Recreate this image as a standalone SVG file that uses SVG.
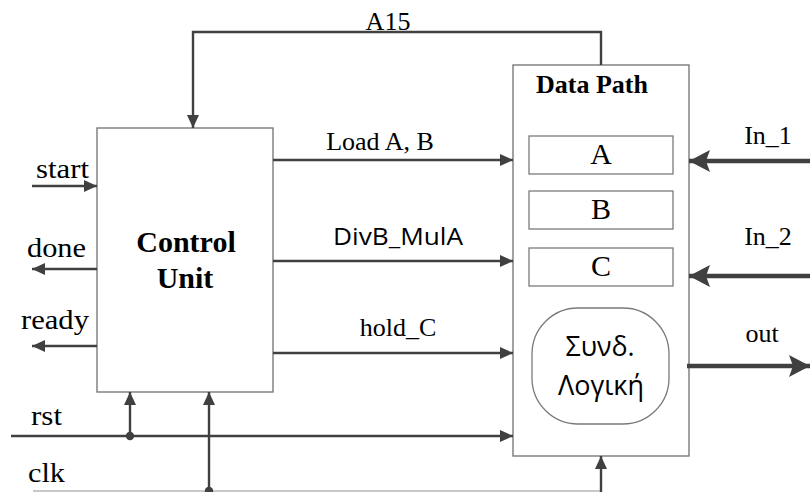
<svg xmlns="http://www.w3.org/2000/svg" width="810" height="492" viewBox="0 0 810 492">
  <style>
    .box { fill: #ffffff; stroke: #7a7a7a; stroke-width: 1.4; }
    .reg { fill: #ffffff; stroke: #7a7a7a; stroke-width: 1.3; }
    .wire { fill: none; stroke: #404040; stroke-width: 2.4; }
    .bus { fill: none; stroke: #404040; stroke-width: 4.5; }
    .serif { font-family: "Liberation Serif", "Times New Roman", serif; fill: #000000; }
    .sans { font-family: "Open Sans", "Noto Sans", sans-serif; fill: #000000; }
    .lbl { font-size: 26px; }
    .side { font-size: 28px; }
    .bold { font-weight: bold; }
  </style>
  <defs>
    <marker id="arrow" markerUnits="userSpaceOnUse" markerWidth="14" markerHeight="14" refX="13" refY="7" orient="auto">
      <path d="M0,1 L13,7 L0,13 Z" fill="#404040"/>
    </marker>
    <marker id="arrowBig" markerUnits="userSpaceOnUse" markerWidth="22" markerHeight="22" refX="21" refY="11" orient="auto">
      <path d="M0,0 L21,11 L0,22 L4,11 Z" fill="#404040"/>
    </marker>
    <circle id="dot" r="4.2" fill="#404040"/>
  </defs>

  <rect width="810" height="492" fill="#ffffff"/>

  <!-- Control unit -->
  <g id="control-unit">
    <rect class="box" x="97" y="128" width="176" height="264"/>
    <text class="serif bold" x="186" y="252" font-size="30" text-anchor="middle">Control</text>
    <text class="serif bold" x="185" y="288" font-size="30" text-anchor="middle">Unit</text>
  </g>

  <!-- Data path -->
  <g id="data-path">
    <rect class="box" x="513" y="65" width="176" height="391"/>
    <text class="serif bold" x="592" y="93" font-size="26" text-anchor="middle">Data Path</text>
  </g>

  <g id="reg-a">
    <rect class="reg" x="529" y="136" width="144" height="38"/>
    <text class="serif" x="601" y="164" font-size="30" text-anchor="middle">A</text>
  </g>
  <g id="reg-b">
    <rect class="reg" x="529" y="191" width="144" height="38"/>
    <text class="serif" x="601" y="219" font-size="30" text-anchor="middle">B</text>
  </g>
  <g id="reg-c">
    <rect class="reg" x="529" y="248" width="144" height="38"/>
    <text class="serif" x="601" y="276" font-size="30" text-anchor="middle">C</text>
  </g>

  <g id="comb-logic">
    <rect class="reg" x="532" y="308" width="137" height="116" rx="46" ry="46"/>
    <text class="sans" x="600" y="356" font-size="28" text-anchor="middle" textLength="69" lengthAdjust="spacingAndGlyphs">Συνδ.</text>
    <text class="sans" x="601" y="395" font-size="28" text-anchor="middle" textLength="86" lengthAdjust="spacingAndGlyphs">Λογική</text>
  </g>

  <!-- Wires between blocks and to the outside -->
  <g id="connectors">
    <!-- A15 feedback from data path to control unit -->
    <polyline class="wire" points="601,65 601,32 193,32 193,128" marker-end="url(#arrow)"/>

    <!-- control signals -->
    <line class="wire" x1="273" y1="160" x2="513" y2="160" marker-end="url(#arrow)"/>
    <line class="wire" x1="273" y1="261" x2="513" y2="261" marker-end="url(#arrow)"/>
    <line class="wire" x1="273" y1="353" x2="513" y2="353" marker-end="url(#arrow)"/>

    <!-- external control I/O -->
    <line class="wire" x1="32" y1="186" x2="97" y2="186" marker-end="url(#arrow)"/>
    <line class="wire" x1="97" y1="269" x2="32" y2="269" marker-end="url(#arrow)"/>
    <line class="wire" x1="97" y1="346" x2="32" y2="346" marker-end="url(#arrow)"/>

    <!-- reset -->
    <line class="wire" x1="11" y1="436" x2="513" y2="436" marker-end="url(#arrow)"/>
    <line class="wire" x1="130" y1="436" x2="130" y2="392" marker-end="url(#arrow)"/>
    <use href="#dot" x="130" y="436"/>

    <!-- clock -->
    <line x1="33" y1="491" x2="601" y2="491" stroke="#c8c8c8" stroke-width="2"/>
    <line class="wire" x1="209" y1="492" x2="209" y2="392" marker-end="url(#arrow)"/>
    <use href="#dot" x="209" y="491"/>
    <line class="wire" x1="601" y1="492" x2="601" y2="456" marker-end="url(#arrow)"/>

    <!-- data buses -->
    <line class="bus" x1="810" y1="161" x2="689" y2="161" marker-end="url(#arrowBig)"/>
    <line class="bus" x1="810" y1="276" x2="689" y2="276" marker-end="url(#arrowBig)"/>
    <line class="bus" x1="687" y1="366" x2="810" y2="366" marker-end="url(#arrowBig)"/>
  </g>

  <!-- Signal labels -->
  <g id="labels">
    <text class="serif lbl" x="388" y="30" text-anchor="middle">A15</text>
    <text class="serif lbl" x="380" y="150" text-anchor="middle">Load A, B</text>
    <text class="sans" x="398" y="245" font-size="23" text-anchor="middle" textLength="130" lengthAdjust="spacingAndGlyphs">DivB_MulA</text>
    <text class="serif lbl" x="398" y="336" text-anchor="middle">hold_C</text>

    <text class="serif side" x="36" y="178" textLength="53" lengthAdjust="spacingAndGlyphs">start</text>
    <text class="serif side" x="27" y="257" textLength="59" lengthAdjust="spacingAndGlyphs">done</text>
    <text class="serif side" x="21" y="329" textLength="68" lengthAdjust="spacingAndGlyphs">ready</text>
    <text class="serif side" x="31" y="425" textLength="31" lengthAdjust="spacingAndGlyphs">rst</text>
    <text class="serif side" x="28" y="482" textLength="37" lengthAdjust="spacingAndGlyphs">clk</text>

    <text class="serif lbl" x="768" y="144" text-anchor="middle">In_1</text>
    <text class="serif lbl" x="768" y="245" text-anchor="middle">In_2</text>
    <text class="serif lbl" x="762" y="342" text-anchor="middle">out</text>
  </g>
</svg>
